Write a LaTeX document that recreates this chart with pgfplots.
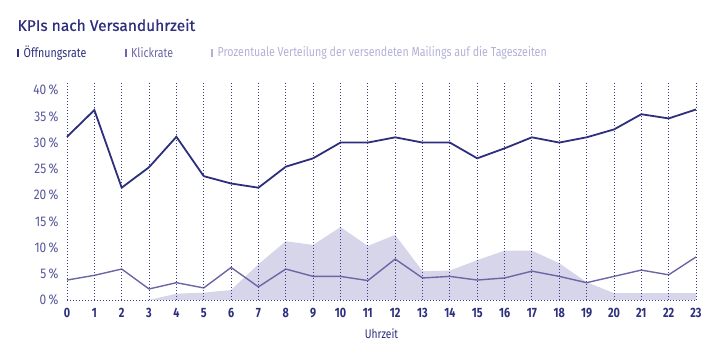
\documentclass[border=0pt]{standalone}
\usepackage{pgfplots}
\pgfplotsset{compat=1.18}
\usepackage{fontspec}
\setmainfont{Fira Sans}
\newfontfamily\titlefont{Fira Sans}[FakeBold=0.6]
\newfontfamily\condfont{Fira Sans}[FakeStretch=0.8]
\newfontfamily\ycondfont{Fira Sans}[FakeStretch=0.85]
\newfontfamily\legfont{Fira Sans}[FakeStretch=0.82]
\definecolor{navy}{HTML}{2D2F7E}
\definecolor{clickc}{HTML}{6B66A6}
\definecolor{areac}{HTML}{D6D5EA}
\definecolor{legthree}{HTML}{B3B1D6}
\definecolor{ytickc}{HTML}{55579A}
\definecolor{gridc}{HTML}{3A3C8A}
\begin{document}
\begin{tikzpicture}[x=1pt,y=1pt]
\path[use as bounding box] (0,0) rectangle (728,356);
\node[anchor=west,text=navy,font=\titlefont\fontsize{15.5}{16}\selectfont,inner sep=0pt] at (17.5,331) {KPIs nach Versanduhrzeit};
\fill[navy] (17,299) rectangle (19.3,307);
\node[anchor=west,text=navy,font=\legfont\fontsize{13}{13}\selectfont,inner sep=0pt] at (23.5,303) {Öffnungsrate};
\fill[clickc] (124.5,299) rectangle (126.8,307);
\node[anchor=west,text=clickc,font=\legfont\fontsize{13}{13}\selectfont,inner sep=0pt] at (131,303) {Klickrate};
\fill[legthree] (211,299) rectangle (213.3,307);
\node[anchor=west,text=legthree,font=\legfont\fontsize{13}{13}\selectfont,inner sep=0pt] at (217.5,303) {Prozentuale Verteilung der versendeten Mailings auf die Tageszeiten};
\begin{axis}[
  at={(67pt,56pt)}, anchor=south west,
  scale only axis, width=629pt, height=218.3pt,
  xmin=0, xmax=23, ymin=0, ymax=41.6,
  axis line style={draw=none},
  tick style={draw=none},
  xtick={0,...,23},
  ytick={0,5,...,40},
  xmajorgrids,
  major grid style={gridc, line width=0.9pt, dash pattern=on 0.9pt off 2.1pt},
  xticklabel style={font=\condfont\bfseries\fontsize{13.5}{13.5}\selectfont, text=navy, yshift=-5pt},
  yticklabel style={font=\ycondfont\fontsize{14}{14}\selectfont, text=ytickc, xshift=-5pt},
  yticklabel={\pgfmathprintnumber[assume math mode=true]{\tick}\,\%},
  xticklabel={\pgfmathprintnumber[assume math mode=true]{\tick}},
  xlabel={Uhrzeit},
  xlabel style={font=\legfont\fontsize{12.5}{13}\selectfont, text=navy, yshift=-4pt},
  axis on top,
  clip=false,
]
\addplot[fill=areac, draw=none] coordinates {
(3,0) (4,1.2) (5,1.4) (6,1.9) (7,6.8) (8,11.2) (9,10.5) (10,13.9) (11,10.3) (12,12.4)
(13,5.5) (14,5.6) (15,7.6) (16,9.4) (17,9.4) (18,7.0) (19,3.4) (20,1.3) (21,1.3) (22,1.3) (23,1.3) (23,0)
} -- cycle;
\draw[gridc, line width=0.9pt, dash pattern=on 0.9pt off 2.1pt] (axis cs:0,0) -- (axis cs:23,0);
\addplot[clickc, line width=1.4pt, mark=none] coordinates {
(0,3.8) (1,4.7) (2,5.9) (3,2.1) (4,3.3) (5,2.3) (6,6.2) (7,2.5) (8,5.9) (9,4.5) (10,4.5) (11,3.7)
(12,7.8) (13,4.2) (14,4.5) (15,3.8) (16,4.2) (17,5.5) (18,4.5) (19,3.3) (20,4.5) (21,5.7) (22,4.8) (23,8.2)
};
\addplot[navy, line width=1.8pt, mark=none] coordinates {
(0,31.1) (1,36.2) (2,21.4) (3,25.3) (4,31.1) (5,23.6) (6,22.2) (7,21.4) (8,25.4) (9,27.0) (10,30.0) (11,30.0)
(12,31.0) (13,30.0) (14,30.0) (15,27.0) (16,28.9) (17,31.0) (18,30.0) (19,31.0) (20,32.5) (21,35.4) (22,34.6) (23,36.3)
};
\end{axis}
\end{tikzpicture}
\end{document}
